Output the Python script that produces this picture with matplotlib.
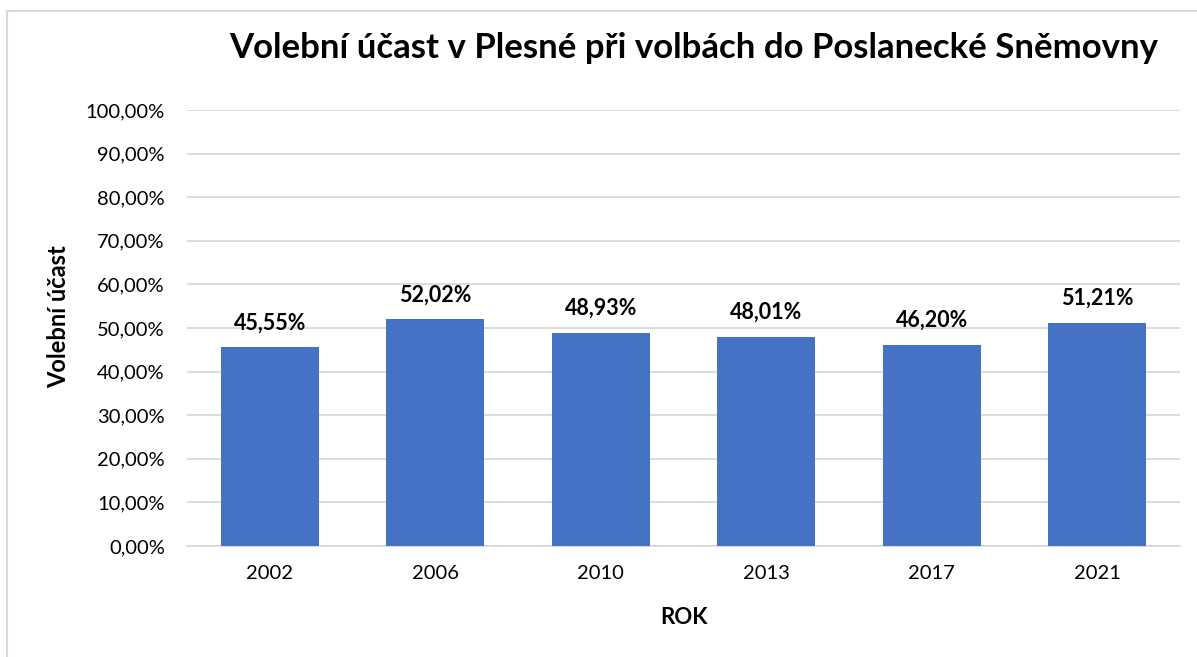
import matplotlib
matplotlib.use("Agg")
import matplotlib.pyplot as plt
from matplotlib.patches import Rectangle
from matplotlib.ticker import FuncFormatter, MultipleLocator

years = ["2002", "2006", "2010", "2013", "2017", "2021"]
turnout = [45.55, 52.02, 48.93, 48.01, 46.20, 51.21]
title = "Volební účast v Plesné při volbách do Poslanecké Sněmovny"
xlabel = "ROK"
ylabel = "Volební účast"

plt.rcParams['font.family'] = ['Lato', 'DejaVu Sans']

fig = plt.figure(figsize=(11.97, 6.57), dpi=100)
W, H = 1197, 657
ax = fig.add_axes([187 / W, 1 - 546 / H, (1180 - 187) / W, (546 - 110) / H])

fig.patches.append(Rectangle((7 / W, -0.1), 1.2, 1 - 11 / H + 0.1, transform=fig.transFigure,
                             fill=False, edgecolor='#d9d9d9', linewidth=1.5))

x = range(len(years))
bars = ax.bar(x, turnout, width=0.59, color='#4472c4', zorder=3)
ax.set_xlim(-0.5, len(years) - 0.5)
ax.set_ylim(0, 100)
ax.yaxis.set_major_locator(MultipleLocator(10))
ax.yaxis.set_major_formatter(FuncFormatter(lambda v, p: f"{v:.2f}".replace('.', ',') + "%"))
ax.set_xticks(list(x))
ax.set_xticklabels(years)
ax.grid(axis='y', color='#d9d9d9', linewidth=1.3, zorder=0)
for s in ['top', 'right', 'left']:
    ax.spines[s].set_visible(False)
ax.spines['bottom'].set_color('#d9d9d9')
ax.spines['bottom'].set_linewidth(1.3)
ax.tick_params(axis='both', length=0, labelsize=14.5, colors='black')
ax.tick_params(axis='y', pad=16)
ax.tick_params(axis='x', pad=14)

for xi, v in zip(x, turnout):
    ax.annotate(f"{v:.2f}".replace('.', ',') + "%", (xi, v), xytext=(0, 10),
                textcoords='offset points', ha='center', va='bottom',
                fontsize=15.5, fontweight='bold')

ax.set_xlabel(xlabel, fontsize=16, fontweight='bold', labelpad=18)
ax.set_ylabel(ylabel, fontsize=17, fontweight='bold')
ax.yaxis.set_label_coords(-0.118, 0.527)
fig.text(694 / W, 1 - 48 / H, title, ha='center', va='center', fontsize=25, fontweight='bold')

fig.savefig("out.png", dpi=100, facecolor='white')
